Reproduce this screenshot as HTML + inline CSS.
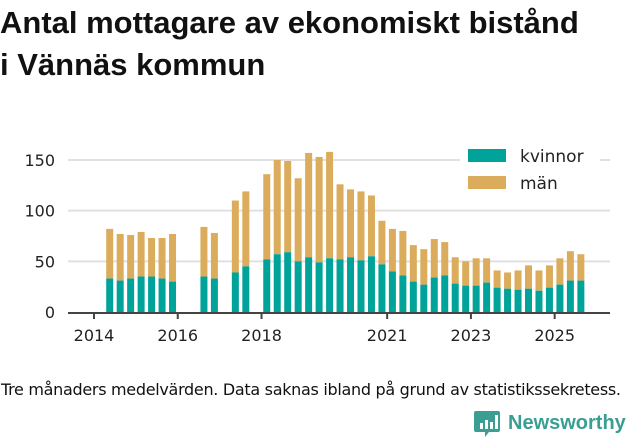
<!DOCTYPE html>
<html><head><meta charset="utf-8"><style>
body{margin:0;width:631px;height:439px;background:#fff;font-family:"Liberation Sans","DejaVu Sans",sans-serif;overflow:hidden;position:relative}
h1{position:absolute;left:0;top:2px;margin:0;font-size:31px;line-height:42px;font-weight:bold;color:#111;white-space:nowrap;font-family:"Liberation Sans",sans-serif}
.foot{position:absolute;left:1px;top:380px;font-size:16px;color:#111;font-family:"DejaVu Sans",sans-serif;letter-spacing:-0.3px;white-space:nowrap}
svg text{font-family:"DejaVu Sans","Liberation Sans",sans-serif}
</style></head><body>
<h1>Antal mottagare av ekonomiskt bistånd<br>i Vännäs kommun</h1>
<svg id="chart" width="631" height="439" style="position:absolute;left:0;top:0"></svg>
<div class="foot">Tre månaders medelvärden. Data saknas ibland på grund av statistikssekretess.</div>
<svg style="position:absolute;left:474px;top:408px" width="157" height="31">
<path d="M2,3 h22 a2,2 0 0 1 2,2 v17 a2,2 0 0 1 -2,2 h-9 l-4,5 v-5 h-9 a2,2 0 0 1 -2,-2 v-17 a2,2 0 0 1 2,-2z" fill="#3a9e93"/>
<rect x="6" y="15" width="3" height="6" fill="#fff"/><rect x="11" y="12" width="3" height="9" fill="#fff"/><rect x="16" y="14" width="3" height="7" fill="#fff"/><rect x="21" y="7" width="3" height="14" fill="#fff"/>
<text x="34" y="21" font-size="20" fill="#3a9e93" font-weight="bold" style="font-family:'Liberation Sans',sans-serif">Newsworthy</text>
</svg>
<script>
const years=[2014,2016,2018,2021,2023,2025];
const yTicks=[0,50,100,150];
const kvinnor=[33,31,33,35,35,33,30,null,null,35,33,null,39,45,null,52,57,59,50,54,49,53,52,54,51,55,47,40,36,30,27,34,36,28,26,26,29,24,23,22,23,21,24,27,31,31];
const totals=[82,77,76,79,73,73,77,null,null,84,78,null,110,119,null,136,150,149,132,157,153,158,126,121,119,115,90,82,80,66,62,72,69,54,50,53,53,41,39,41,46,41,46,53,60,57];
const startYear=2014, startQuarter=1; // index 0 = 2014 Q2
const svg=document.getElementById('chart');
const NS='http://www.w3.org/2000/svg';
const y=v=>312-v*(152/150);
const qw=10.47;
const xYear=yr=>94+(yr-startYear)*4*qw;
const xBar=i=>94+(i+startQuarter+0.5)*qw;
function mk(t,a){const e=document.createElementNS(NS,t);for(const k in a)e.setAttribute(k,a[k]);svg.appendChild(e);return e;}
yTicks.forEach(v=>{
 if(v>0){const g=mk('line',{x1:68,x2:610,y1:y(v),y2:y(v),stroke:'#e0e0e0','stroke-width':2});
 
 }
 const t=mk('text',{x:55,y:y(v)+6,'text-anchor':'end','font-size':16,fill:'#222'});t.textContent=v;
 
 
});
kvinnor.forEach((k,i)=>{
 if(k==null)return;
 const tot=totals[i];
 const b1=mk('rect',{x:xBar(i)-3.5,width:7,y:y(tot),height:y(k)-y(tot),fill:'#dbac5b'});
 
 
 const b2=mk('rect',{x:xBar(i)-3.5,width:7,y:y(k),height:y(0)-y(k),fill:'#00a39a'});
 
 
});
const ax=mk('line',{x1:68,x2:610,y1:313,y2:313,stroke:'#444','stroke-width':2});


years.forEach(yr=>{
 const tk=mk('line',{x1:xYear(yr),x2:xYear(yr),y1:313,y2:319,stroke:'#444','stroke-width':2});
 
 
 const t=mk('text',{x:xYear(yr),y:341,'text-anchor':'middle','font-size':16,fill:'#222'});t.textContent=yr;
 
 
});
[['kvinnor','#00a39a',149],['män','#dbac5b',176]].forEach(([n,c,yy])=>{
 const bg=mk('rect',{x:460,y:yy-6,width:140,height:26,fill:'#fff'});
 
 
 const r=mk('rect',{x:468,y:yy,width:38,height:13,fill:c});
 
 
 const t=mk('text',{x:520,y:yy+13,'font-size':17,fill:'#222'});t.textContent=n;
 
 
});
</script>
</body></html>
